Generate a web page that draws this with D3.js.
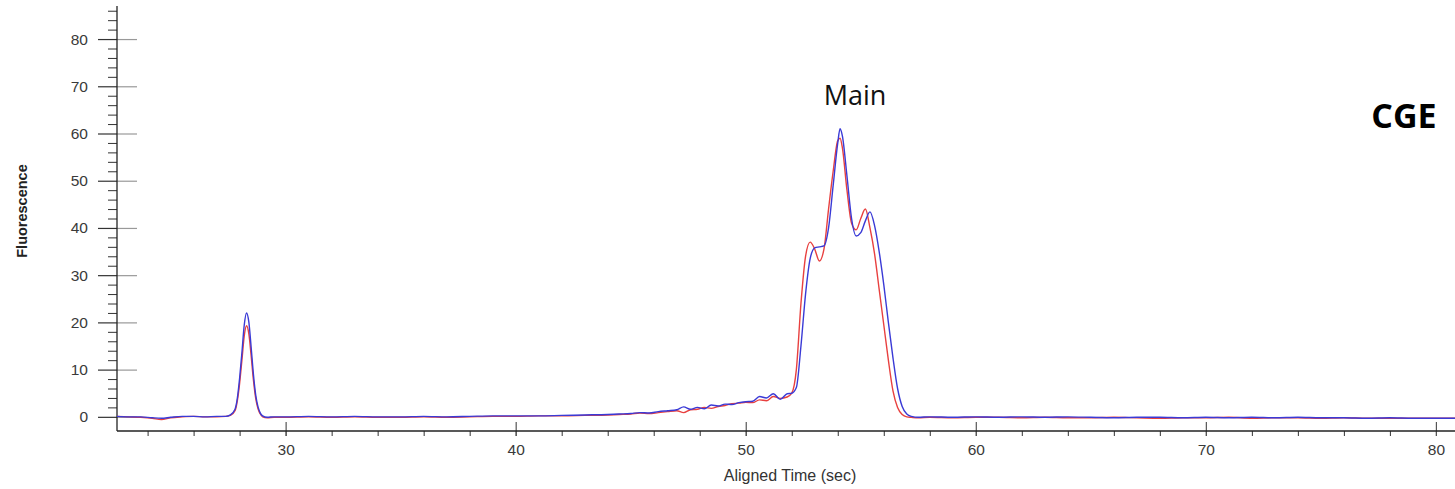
<!DOCTYPE html>
<html>
<head>
<meta charset="utf-8">
<script src="https://cdn.jsdelivr.net/npm/d3@7"></script>
<style>
  html, body { margin: 0; padding: 0; background: #fff; }
  svg { display: block; }
</style>
</head>
<body>
<svg id="chart" width="1455" height="489"></svg>
<script>
// ---- data ----
const times = [
  22.67, 23.2, 23.7, 24.2, 24.6, 25.0, 25.5, 26.0, 26.5, 27.0, 27.4, 27.6,
  27.8, 27.9, 28.0, 28.1, 28.2, 28.3, 28.4, 28.5, 28.6, 28.7, 28.8, 28.9, 29.0, 29.2, 29.5,
  30, 31, 32, 33, 34, 35, 36, 37, 38, 39, 40, 41, 42, 43, 44,
  44.5, 45.0, 45.4, 45.8, 46.2, 46.6, 47.0, 47.3, 47.6, 47.9, 48.2, 48.5, 48.8, 49.1, 49.4, 49.7, 50.0, 50.3, 50.6, 50.9, 51.2, 51.5, 51.8,
  52.0, 52.2, 52.4, 52.6, 52.8, 53.0, 53.2, 53.4, 53.6, 53.8, 54.0, 54.1, 54.2, 54.4, 54.6, 54.8, 55.0, 55.2, 55.4, 55.6, 55.8, 56.0, 56.2, 56.4, 56.6, 56.8, 57.0, 57.2, 57.5,
  58, 59, 60, 61, 62, 63, 64, 65, 66, 67, 68, 69, 70, 71, 72, 73, 74, 75, 76, 77, 78, 79, 80, 80.83
];
const blueValues = [
  0.1, 0.0, 0.0, -0.2, -0.3, -0.1, 0.1, 0.1, 0.0, 0.1, 0.1, 0.4,
  1.6, 3.9, 8.2, 13.6, 19.4, 22, 20.1, 14.8, 9.0, 4.6, 2.1, 0.8, 0.2, -0.1, 0.0,
  0.0, 0.1, 0.0, 0.1, 0.0, 0.0, 0.1, 0.0, 0.1, 0.2, 0.2, 0.2, 0.3, 0.4, 0.5,
  0.6, 0.7, 0.9, 0.8, 1.1, 1.3, 1.5, 2.1, 1.6, 2.0, 1.7, 2.5, 2.3, 2.7, 2.6, 3.0, 3.2, 3.3, 4.3, 4.0, 4.9, 3.7, 4.9,
  5.0, 6.2, 15, 26, 33.5, 35.8, 36, 36.2, 40, 49, 58, 61, 59.5, 51, 42, 38.3, 39, 41.5, 43.4, 40.5, 35, 28, 20, 12.5, 6, 2.2, 0.6, 0.1, -0.1,
  0.0, -0.1, 0.0, -0.1, 0.0, -0.1, 0.0, -0.1, -0.2, -0.1, -0.1, -0.2, -0.1, -0.2, -0.1, -0.2, -0.1, -0.2, -0.2, -0.3, -0.2, -0.3, -0.3, -0.3
];
const redValues = [
  0.1, 0.0, -0.1, -0.3, -0.6, -0.2, 0.0, 0.1, 0.0, 0.0, 0.1, 0.3,
  1.3, 3.4, 7.1, 12, 17.1, 19.3, 17.6, 13, 7.8, 3.9, 1.7, 0.6, 0.0, -0.2, -0.1,
  -0.1, 0.0, -0.1, 0.0, -0.1, -0.1, 0.0, -0.1, 0.0, 0.1, 0.1, 0.2, 0.2, 0.3, 0.4,
  0.5, 0.6, 0.8, 0.7, 0.9, 1.1, 1.3, 0.9, 1.5, 1.6, 2.0, 1.8, 2.2, 2.4, 2.8, 2.9, 3.1, 3.0, 3.6, 3.4, 4.3, 3.9, 4.2,
  5.0, 10, 24, 34, 37, 35.5, 33, 35.5, 44, 52, 58.5, 59, 57, 48, 41, 39.6, 42, 44, 40, 34.5, 27, 19.5, 12, 5.5, 2, 0.5, 0.0, -0.1, -0.2,
  -0.1, -0.2, -0.1, -0.1, -0.2, -0.1, -0.2, -0.2, -0.1, -0.2, -0.3, -0.2, -0.2, -0.1, -0.3, -0.2, -0.2, -0.3, -0.2, -0.3, -0.3, -0.3, -0.3, -0.3
];
const xTickValues = [30, 40, 50, 60, 70, 80];
const xMinorTickValues = [24, 26, 28, 30, 32, 34, 36, 38, 40, 42, 44, 46, 48, 50, 52, 54, 56, 58, 60, 62, 64, 66, 68, 70, 72, 74, 76, 78, 80];
const yTickValues = [0, 10, 20, 30, 40, 50, 60, 70, 80];
const yMinorTickValues = [2, 4, 6, 8, 12, 14, 16, 18, 22, 24, 26, 28, 32, 34, 36, 38, 42, 44, 46, 48, 52, 54, 56, 58, 62, 64, 66, 68, 72, 74, 76, 78, 82, 84, 86];
const xDomain = [22.67, 80.83];
const yDomain = [-3, 87];

// ---- layout ----
const svg = d3.select("#chart");
const pL = 117, pR = 1455, pT = 6, pB = 431;
const x = d3.scaleLinear().domain(xDomain).range([pL, pR]);
const y = d3.scaleLinear().domain(yDomain).range([pB, pT]);

svg.append("defs").append("clipPath").attr("id", "plotclip")
  .append("rect").attr("x", pL).attr("y", pT).attr("width", pR - pL).attr("height", pB - pT);

const font = "Arial, 'Liberation Sans', Helvetica, sans-serif";

// Y axis: minor ticks (left side)
const gyMinor = svg.append("g").attr("transform", `translate(${pL},0)`)
  .call(d3.axisLeft(y).tickValues(yMinorTickValues).tickSize(9).tickFormat(""));
gyMinor.select(".domain").remove();
gyMinor.selectAll(".tick line").attr("stroke", "#333").attr("stroke-width", 1);

// Y axis: major ticks right part (gray)
const gyRight = svg.append("g").attr("transform", `translate(${pL},0)`)
  .call(d3.axisRight(y).tickValues(yTickValues).tickSize(20).tickFormat(""));
gyRight.select(".domain").remove();
gyRight.selectAll(".tick line").attr("stroke", "#999").attr("stroke-width", 1.2);

// Y axis: major ticks left part with labels
const gy = svg.append("g").attr("transform", `translate(${pL},0)`)
  .call(d3.axisLeft(y).tickValues(yTickValues).tickSize(19).tickPadding(10).tickSizeOuter(0));
gy.select(".domain").remove();
gy.selectAll(".tick line").attr("stroke", "#333").attr("stroke-width", 1.2);
gy.selectAll(".tick text").attr("font-family", font).attr("font-size", 15.5).attr("fill", "#3a3a3a");

// Y axis line
svg.append("line").attr("x1", pL).attr("x2", pL).attr("y1", pT).attr("y2", pB)
  .attr("stroke", "#222").attr("stroke-width", 1.3);

// X axis: minor ticks below
const gxMinor = svg.append("g").attr("transform", `translate(0,${pB})`)
  .call(d3.axisBottom(x).tickValues(xMinorTickValues).tickSize(5).tickFormat(""));
gxMinor.select(".domain").remove();
gxMinor.selectAll(".tick line").attr("stroke", "#333");

// X axis: major ticks (crossing) with labels
const gx = svg.append("g").attr("transform", `translate(0,${pB})`)
  .call(d3.axisBottom(x).tickValues(xTickValues).tickSize(0).tickPadding(13).tickFormat(d3.format("d")));
gx.select(".domain").remove();
gx.selectAll(".tick line").remove();
gx.selectAll(".tick").append("line").attr("y1", -9).attr("y2", 5).attr("stroke", "#555").attr("stroke-width", 1.2);
gx.selectAll(".tick text").attr("font-family", font).attr("font-size", 15.5).attr("fill", "#3a3a3a");

// X axis line
svg.append("line").attr("x1", pL).attr("x2", pR).attr("y1", pB).attr("y2", pB)
  .attr("stroke", "#222").attr("stroke-width", 1.3);

// ---- lines ----
const line = d3.line().x(d => x(d[0])).y(d => y(d[1])).curve(d3.curveMonotoneX);
const plot = svg.append("g").attr("clip-path", "url(#plotclip)");
plot.append("path").datum(times.map((t, i) => [t, redValues[i]]))
  .attr("d", line).attr("fill", "none").attr("stroke", "#e8403f").attr("stroke-width", 1.4);
plot.append("path").datum(times.map((t, i) => [t, blueValues[i]]))
  .attr("d", line).attr("fill", "none").attr("stroke", "#3a3ad6").attr("stroke-width", 1.4);

// ---- texts ----
svg.append("text").attr("transform", "translate(27,211) rotate(-90)")
  .attr("text-anchor", "middle").attr("font-family", font).attr("font-weight", "bold")
  .attr("font-size", 14.5).attr("fill", "#222").text("Fluorescence");

svg.append("text").attr("x", 790).attr("y", 481).attr("text-anchor", "middle")
  .attr("font-family", font).attr("font-size", 16).attr("fill", "#333").text("Aligned Time (sec)");

svg.append("text").attr("x", 855).attr("y", 105).attr("text-anchor", "middle")
  .attr("font-family", "'Open Sans', 'Noto Sans', sans-serif").attr("font-size", 27).attr("fill", "#111").text("Main");

svg.append("text").attr("x", 1404).attr("y", 128).attr("text-anchor", "middle")
  .attr("font-family", "'Open Sans', 'Noto Sans', sans-serif").attr("font-weight", "bold")
  .attr("font-size", 34).attr("fill", "#000").text("CGE");
</script>
</body>
</html>
